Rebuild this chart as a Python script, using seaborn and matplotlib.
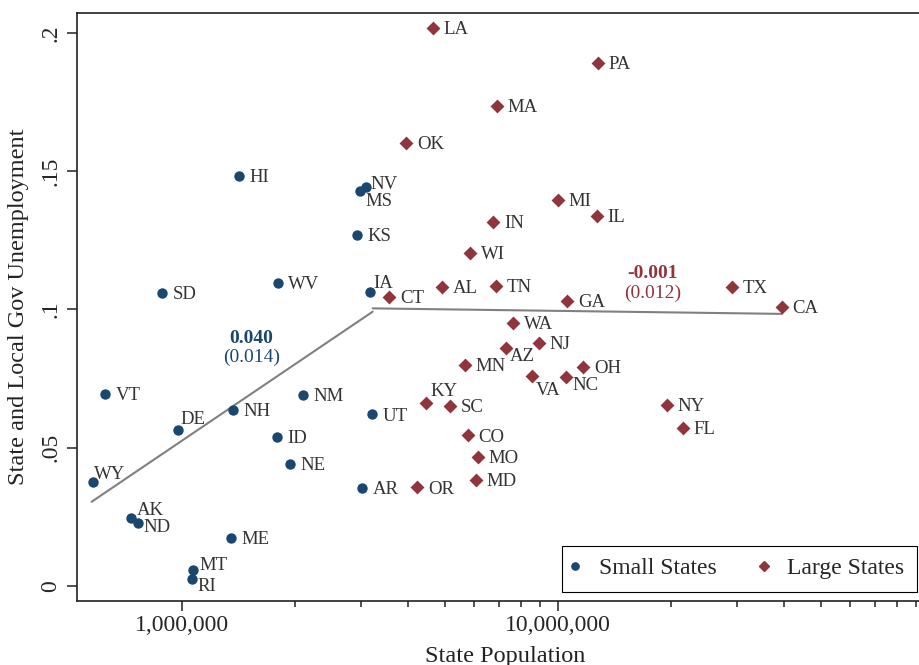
import matplotlib
matplotlib.use("Agg")
import matplotlib.pyplot as plt
import seaborn as sns
import pandas as pd
from matplotlib.lines import Line2D
from matplotlib.ticker import FixedLocator, FuncFormatter

# data
small_states = ["HI", "NV", "MS", "KS", "WV", "IA", "SD", "VT", "DE", "NH", "NM",
                "UT", "ID", "NE", "AR", "WY", "AK", "ND", "ME", "MT", "RI"]
small_pop = [1.42e6, 3.09e6, 2.98e6, 2.92e6, 1.80e6, 3.16e6, 0.888e6, 0.626e6,
             0.979e6, 1.37e6, 2.10e6, 3.21e6, 1.79e6, 1.94e6, 3.02e6, 0.582e6,
             0.733e6, 0.764e6, 1.35e6, 1.074e6, 1.063e6]
small_unemp = [0.1482, 0.1445, 0.1429, 0.1271, 0.1096, 0.1063, 0.1059, 0.0693,
               0.0563, 0.0636, 0.0690, 0.0620, 0.0540, 0.0442, 0.0353, 0.0377,
               0.0245, 0.0228, 0.0173, 0.0056, 0.0023]

large_states = ["LA", "OK", "CT", "AL", "PA", "MA", "MI", "IL", "IN", "WI", "TN",
                "GA", "TX", "CA", "WA", "KY", "SC", "OR", "NJ", "AZ", "MN", "OH",
                "VA", "NC", "NY", "FL", "CO", "MO", "MD"]
large_pop = [4.66e6, 3.96e6, 3.57e6, 4.92e6, 12.8e6, 6.91e6, 10.0e6, 12.7e6,
             6.74e6, 5.85e6, 6.85e6, 10.6e6, 29.0e6, 39.5e6, 7.62e6, 4.47e6,
             5.16e6, 4.23e6, 8.92e6, 7.30e6, 5.67e6, 11.7e6, 8.54e6, 10.5e6,
             19.5e6, 21.5e6, 5.77e6, 6.15e6, 6.05e6]
large_unemp = [0.2020, 0.1604, 0.1045, 0.1081, 0.1891, 0.1737, 0.1396, 0.1340,
               0.1317, 0.1203, 0.1086, 0.1031, 0.1080, 0.1008, 0.0950, 0.0661,
               0.0652, 0.0356, 0.0878, 0.0859, 0.0800, 0.0792, 0.0760, 0.0754,
               0.0653, 0.0572, 0.0544, 0.0465, 0.0384]

# fitted lines (endpoints)
small_fit_pop = [0.576e6, 3.22e6]
small_fit_unemp = [0.0304, 0.0992]
large_fit_pop = [3.22e6, 39.5e6]
large_fit_unemp = [0.1004, 0.0984]

small_coef = ["0.040", "(0.014)"]
large_coef = ["-0.001", "(0.012)"]

x_major = [1e6, 1e7]
x_major_labels = ["1,000,000", "10,000,000"]
x_minor = [2e6, 3e6, 4e6, 5e6, 6e6, 7e6, 8e6, 9e6,
           2e7, 3e7, 4e7, 5e7, 6e7, 7e7, 8e7, 9e7]
y_ticks = [0, 0.05, 0.1, 0.15, 0.2]

NAVY = "#1a476f"
MAROON = "#90353b"
LINE = "#808080"
INK = "#222222"

# label offsets in pixels (dx to text left, dy to text centre, + is down)
label_offsets = {
    "NV": (5, -4), "MS": (5, 9), "IA": (4, -10), "DE": (2, -12.7),
    "WY": (1, -9), "AK": (6, -9), "ND": (6, 3), "MT": (6, -6), "RI": (6, 5),
    "KY": (4, -13), "AZ": (4, 6), "VA": (4, 12.7), "NC": (7, 6),
}

sns.set_theme(style="white")
plt.rcParams["font.family"] = ["Liberation Serif", "DejaVu Serif"]

fig = plt.figure(figsize=(9.2, 6.65), dpi=100)
ax = fig.add_axes([77 / 920, 64.3 / 665, 856.7 / 920, 587.7 / 665])
ax.set_xscale("log")

small_df = pd.DataFrame({"pop": small_pop, "unemp": small_unemp, "state": small_states})
large_df = pd.DataFrame({"pop": large_pop, "unemp": large_unemp, "state": large_states})

sns.lineplot(x=small_fit_pop, y=small_fit_unemp, color=LINE, linewidth=1.5, ax=ax, zorder=2)
sns.lineplot(x=large_fit_pop, y=large_fit_unemp, color=LINE, linewidth=1.5, ax=ax, zorder=2)

sns.scatterplot(data=small_df, x="pop", y="unemp", marker="o", s=56,
                color=NAVY, linewidth=0, ax=ax, zorder=3)
sns.scatterplot(data=large_df, x="pop", y="unemp", marker="D", s=50,
                color=MAROON, linewidth=0, ax=ax, zorder=3)

px = 0.72  # points per pixel at 100 dpi
for df in (small_df, large_df):
    for _, row in df.iterrows():
        dx, dy = label_offsets.get(row["state"], (10.6, 0))
        ax.annotate(row["state"], (row["pop"], row["unemp"]),
                    xytext=(dx * px, -dy * px - 4.4), textcoords="offset points",
                    ha="left", va="baseline", fontsize=13.5, color="#333333",
                    zorder=4)

ax.text(1.53e6, 0.0896, small_coef[0], color=NAVY, fontsize=14,
        fontweight="bold", ha="center", va="center")
ax.text(1.53e6, 0.0827, small_coef[1], color=NAVY, fontsize=14,
        ha="center", va="center")
ax.text(17.9e6, 0.1129, large_coef[0], color=MAROON, fontsize=14,
        fontweight="bold", ha="center", va="center")
ax.text(17.9e6, 0.1059, large_coef[1], color=MAROON, fontsize=14,
        ha="center", va="center")

ax.set_xlim(5.267e5, 1.0e8)
ax.set_ylim(-0.0054, 0.2073)

ax.xaxis.set_major_locator(FixedLocator(x_major))
ax.xaxis.set_major_formatter(FuncFormatter(lambda v, p: x_major_labels[x_major.index(v)] if v in x_major else ""))
ax.xaxis.set_minor_locator(FixedLocator(x_minor))
ax.xaxis.set_minor_formatter(FuncFormatter(lambda v, p: ""))
ax.set_yticks(y_ticks)
ax.yaxis.set_major_formatter(FuncFormatter(lambda v, p: "0" if v == 0 else f"{v:g}".lstrip("0")))

ax.tick_params(axis="x", which="major", length=7.2, width=1.1, color=INK,
               labelsize=17, pad=3, direction="out", bottom=True)
ax.tick_params(axis="x", which="minor", length=4, width=1.1, color=INK,
               direction="out", bottom=True)
ax.tick_params(axis="y", length=7.2, width=1.1, color=INK, labelsize=17,
               pad=4, direction="out", left=True)
for lab in ax.get_yticklabels():
    lab.set_rotation(90)
    lab.set_va("center")

for side in ["left", "bottom", "top", "right"]:
    ax.spines[side].set_color(INK)
    ax.spines[side].set_linewidth(1.2)

ax.set_xlabel("State Population", fontsize=17.5, color=INK, labelpad=7)
ax.set_ylabel("State and Local Gov Unemployment", fontsize=17.5, color=INK, labelpad=8)

handles = [
    Line2D([], [], marker="o", linestyle="none", color=NAVY, markersize=5.2),
    Line2D([], [], marker="D", linestyle="none", color=MAROON, markersize=5.3),
]
leg = ax.legend(handles, ["Small States", "Large States"], ncol=2,
                loc="lower left", bbox_to_anchor=(561.7 / 920, 73.3 / 665),
                bbox_transform=fig.transFigure, borderaxespad=0,
                fontsize=17, frameon=True, fancybox=False, framealpha=1,
                edgecolor="black", borderpad=0.52, handlelength=0.1,
                handletextpad=0.95, columnspacing=1.95)
leg.get_frame().set_linewidth(0.8)

fig.savefig("out.png", dpi=100)
